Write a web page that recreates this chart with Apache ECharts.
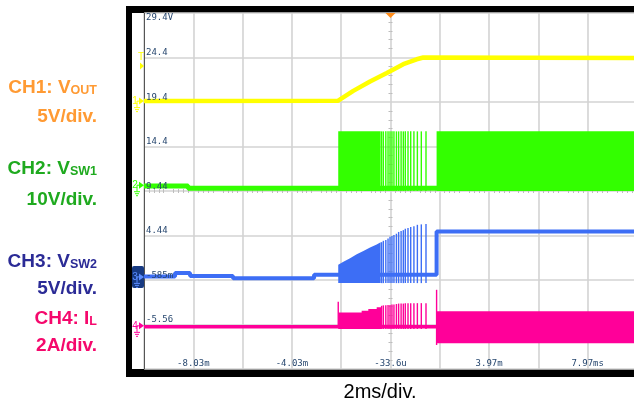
<!DOCTYPE html>
<html><head><meta charset="utf-8">
<script src="https://cdn.jsdelivr.net/npm/echarts@6/dist/echarts.min.js"></script>
<style>html,body{margin:0;padding:0;background:#fff;overflow:hidden}#c{width:634px;height:402px}</style>
</head><body><div id="c"></div>
<script>
// ---- axis ticks (time in ms from screen centre, level in screen divisions) ----
const xTickValues = [-8, -4, 0, 4, 8];
const xTickLabels = ['-8.03m', '-4.03m', '-33.6u', '3.97m', '7.97ms'];
const yTickValues = [-3, -2, -1, 0, 1, 2, 3];
const yTickLabels = ['-5.56', '-585m', '4.44', '9.44', '14.4', '19.4', '24.4'];
const yTopValue = 4;
const yTopLabel = '29.4V';

// ---- CH1 VOUT ----
const ch1Time  = [-10, -2.12, -1.51, -0.83, -0.15, 0.52, 1.06, 1.33, 10];
const ch1Level = [2.02, 2.03, 2.25, 2.46, 2.65, 2.85, 2.96, 3.0, 2.99];

// ---- CH2 VSW1 ----
const ch2Time  = [-10, -8.21, -8.21, 10];
const ch2Level = [0.11, 0.11, 0.06, 0.06];
const ch2Block1Time = [-2.12, -0.40];
const ch2Block1Top  = [1.34, 1.34];
const ch2Block1Bot  = [0.0, 0.0];
const ch2Block2Time = [1.87, 10];
const ch2Block2Top  = [1.34, 1.34];
const ch2Block2Bot  = [0.0, 0.0];
const spikeTime = [-0.36, -0.29, -0.19, -0.10, -0.02, 0.06, 0.14, 0.24, 0.33, 0.43, 0.52, 0.60, 0.71, 0.82, 0.95, 1.09, 1.25, 1.44];
const ch2SpikeLow  = 0.0;
const ch2SpikeHigh = 1.34;

// ---- CH3 VSW2 ----
const ch3Time  = [-10, -8.74, -8.74, -8.13, -8.13, -6.39, -6.39, -3.10, -3.10, 1.87, 1.87, 10];
const ch3Level = [-1.92, -1.92, -1.84, -1.84, -1.91, -1.91, -1.96, -1.96, -1.88, -1.88, -0.91, -0.91];
const ch3EnvTime = [-2.12, -1.91, -1.64, -1.37, -1.10, -0.83, -0.56, -0.40];
const ch3EnvTop  = [-1.66, -1.59, -1.51, -1.42, -1.35, -1.27, -1.20, -1.15];
const ch3EnvBot  = [-2.07, -2.07, -2.07, -2.07, -2.07, -2.07, -2.07, -2.07];
const ch3SpikeTop = [-1.15, -1.12, -1.10, -1.07, -1.03, -1.01, -0.99, -0.96, -0.92, -0.90, -0.88, -0.85, -0.83, -0.81, -0.79, -0.76, -0.75, -0.74];
const ch3SpikeLow = -2.07;

// ---- CH4 IL ----
const ch4Time  = [-10, 10];
const ch4Level = [-3.05, -3.05];
const ch4EnvTime = [-2.12, -1.17, -1.17, -0.90, -0.90, -0.56, -0.56, -0.36];
const ch4EnvTop  = [-2.73, -2.73, -2.69, -2.69, -2.65, -2.65, -2.61, -2.61];
const ch4EnvBot  = [-3.10, -3.10, -3.10, -3.10, -3.10, -3.10, -3.10, -3.10];
const ch4Block2Time = [1.87, 10];
const ch4Block2Top  = [-2.70, -2.70];
const ch4Block2Bot  = [-3.42, -3.42];
const ch4SpikeTop = [-2.58, -2.57, -2.57, -2.56, -2.56, -2.55, -2.55, -2.54, -2.53, -2.53, -2.53, -2.52, -2.52, -2.52, -2.52, -2.52, -2.52, -2.52];
const ch4SpikeLow = -3.10;
const ch4EdgeTime = [-2.12, 1.87];
const ch4EdgeTop  = [-2.49, -2.22];
const ch4EdgeLow  = [-3.05, -3.46];

// ---- markers ----
const markerLabels = ['1', '2', '3', '4'];
const markerLevels = [2.02, 0.13, -1.93, -3.03];
const triggerLevel = 2.81;
const triggerTime = 0;

const C1 = '#ffff00', C2 = '#33ff00', C3 = '#3d6ef5', C4 = '#ff0099';
const tickFont = 'DejaVu Sans Mono', tickColor = '#27476f';

function at(a, i) { return Array.isArray(a) ? a[i] : a; }
function trace(times, levels, color, w) {
  return { type: 'line', data: times.map((t, i) => [t, levels[i]]), showSymbol: false, symbol: 'none',
    lineStyle: { color: color, width: w }, itemStyle: { color: color }, z: 2, silent: true };
}
function env(times, tops, bots, color) {
  return { type: 'custom', z: 3, silent: true,
    data: times.map((t, i) => [t, at(tops, i), at(bots, i)]), encode: { x: 0, y: [1, 2] },
    renderItem: function (params, api) {
      if (params.dataIndexInside !== 0) return null;
      const n = params.dataInsideLength, pts = [];
      for (let i = 0; i < n; i++) pts.push(api.coord([api.value(0, i), api.value(1, i)]));
      for (let i = n - 1; i >= 0; i--) pts.push(api.coord([api.value(0, i), api.value(2, i)]));
      return { type: 'polygon', shape: { points: pts }, style: { fill: color } };
    } };
}
function spikes(times, lows, highs, color, w) {
  return { type: 'custom', z: 3, silent: true,
    data: times.map((t, i) => [t, at(lows, i), at(highs, i)]), encode: { x: 0, y: [1, 2] },
    renderItem: function (params, api) {
      const a = api.coord([api.value(0), api.value(1)]), b = api.coord([api.value(0), api.value(2)]);
      return { type: 'line', shape: { x1: a[0], y1: a[1], x2: b[0], y2: b[1] }, style: { stroke: color, lineWidth: w } };
    } };
}
function lab(values, labels) {
  return function (v) { const i = values.findIndex(x => Math.abs(x - v) < 1e-6); return i < 0 ? '' : labels[i]; };
}
const hidden = { axisLine: { show: false, onZero: false }, axisLabel: { show: false }, splitLine: { show: false } };
function centerAxis(extra, inside) {
  return Object.assign({ type: 'value', interval: 1, axisTick: { show: false, inside: inside },
    minorTick: { show: true, splitNumber: 5, length: 2, lineStyle: { color: '#bdbdbd', width: 1 } } }, hidden, extra);
}

const chart = echarts.init(document.getElementById('c'));
chart.setOption({
  animation: false,
  backgroundColor: '#fff',
  grid: { left: 144, width: 493, top: 13, height: 356, containLabel: false, outerBoundsMode: 'none' },
  xAxis: [
    { type: 'value', min: -10, max: 10, interval: 2, position: 'bottom',
      axisLine: { show: false, onZero: false }, axisTick: { show: false }, axisLabel: { show: false },
      splitLine: { show: true, lineStyle: { color: '#d3d3d3', width: 1.6 } } },
    { type: 'value', min: -10, max: 10, interval: 2, position: 'bottom', z: 10,
      axisLine: { show: false, onZero: false }, axisTick: { show: false }, splitLine: { show: false },
      axisLabel: { inside: true, margin: 1, fontFamily: tickFont, fontSize: 9, color: tickColor, formatter: lab(xTickValues, xTickLabels) } },
    centerAxis({ min: -10, max: 10, position: 'bottom', offset: -178 }, false),
    centerAxis({ min: -10, max: 10, position: 'bottom', offset: -178 }, true)
  ],
  yAxis: [
    { type: 'value', min: -4, max: 4, interval: 1, position: 'left',
      axisLine: { show: true, onZero: false, lineStyle: { color: '#555', width: 1 } }, axisTick: { show: false }, axisLabel: { show: false },
      splitLine: { show: true, lineStyle: { color: '#d3d3d3', width: 1.6 } } },
    { type: 'value', min: -4, max: 4, interval: 1, position: 'left', z: 10,
      axisLine: { show: false, onZero: false }, axisTick: { show: false }, splitLine: { show: false },
      axisLabel: { inside: true, margin: 2, align: 'left', verticalAlign: 'bottom', fontFamily: tickFont, fontSize: 9, color: tickColor, formatter: lab(yTickValues, yTickLabels) } },
    { type: 'value', min: -4, max: 4, interval: 1, position: 'left', z: 10,
      axisLine: { show: false, onZero: false }, axisTick: { show: false }, splitLine: { show: false },
      axisLabel: { inside: true, margin: 2, align: 'left', verticalAlign: 'top', fontFamily: tickFont, fontSize: 9, color: tickColor, formatter: lab([yTopValue], [yTopLabel]) } },
    centerAxis({ min: -4, max: 4, position: 'left', offset: -246.5 }, false),
    centerAxis({ min: -4, max: 4, position: 'left', offset: -246.5 }, true)
  ],
  series: [
    trace(ch1Time, ch1Level, C1, 4.5),
    trace(ch2Time, ch2Level, C2, 5),
    env(ch2Block1Time, ch2Block1Top, ch2Block1Bot, C2),
    env(ch2Block2Time, ch2Block2Top, ch2Block2Bot, C2),
    spikes(spikeTime, ch2SpikeLow, ch2SpikeHigh, C2, 1.4),
    trace(ch3Time, ch3Level, C3, 4),
    env(ch3EnvTime, ch3EnvTop, ch3EnvBot, C3),
    spikes(spikeTime, ch3SpikeLow, ch3SpikeTop, C3, 1.4),
    trace(ch4Time, ch4Level, C4, 3.5),
    env(ch4EnvTime, ch4EnvTop, ch4EnvBot, C4),
    env(ch4Block2Time, ch4Block2Top, ch4Block2Bot, C4),
    spikes(spikeTime, ch4SpikeLow, ch4SpikeTop, C4, 1.4),
    spikes(ch4EdgeTime, ch4EdgeLow, ch4EdgeTop, C4, 1.4)
  ]
});

// ---- decorations placed through the chart's own coordinate system ----
function px(t, v) { return chart.convertToPixel({ xAxisIndex: 0, yAxisIndex: 0 }, [t, v]); }
const g = [];
const L = px(-10, 0)[0];
g.push({ type: 'rect', z: -10, shape: { x: L - 18, y: 6, width: 520, height: 371 }, style: { fill: '#000' } });
g.push({ type: 'rect', z: -9, shape: { x: L - 12, y: 13, width: 520, height: 356 }, style: { fill: '#fff' } });
const mColors = [C1, C2, C3, C4];
markerLabels.forEach(function (m, i) {
  const y = px(-10, markerLevels[i])[1];
  const col = i === 2 ? '#5a8cff' : mColors[i];
  if (i === 2) g.push({ type: 'rect', z: 20, shape: { x: L - 12, y: y - 11, width: 12, height: 22, r: 2 }, style: { fill: '#173a82' } });
  g.push({ type: 'text', z: 21, x: L - 9, y: y, style: { text: m, fill: col, fontSize: 10, fontFamily: 'Liberation Sans', align: 'center', verticalAlign: 'middle' } });
  g.push({ type: 'polygon', z: 21, shape: { points: [[L - 5, y - 3.5], [L, y], [L - 5, y + 3.5]] }, style: { fill: col } });
  g.push({ type: 'polyline', z: 21, shape: { points: [[L - 5, y], [L - 7, y], [L - 7, y + 6]] }, style: { stroke: col, lineWidth: 1, fill: null } });
  g.push({ type: 'line', z: 21, shape: { x1: L - 10, y1: y + 6.5, x2: L - 4, y2: y + 6.5 }, style: { stroke: col, lineWidth: 1 } });
  g.push({ type: 'line', z: 21, shape: { x1: L - 9, y1: y + 8.5, x2: L - 5, y2: y + 8.5 }, style: { stroke: col, lineWidth: 1 } });
  g.push({ type: 'line', z: 21, shape: { x1: L - 8, y1: y + 10.5, x2: L - 6, y2: y + 10.5 }, style: { stroke: col, lineWidth: 1 } });
});
const ty = px(-10, triggerLevel)[1];
g.push({ type: 'text', z: 21, x: L - 3, y: ty - 9, style: { text: 'T', fill: C1, fontSize: 10, fontFamily: 'Liberation Sans', align: 'center', verticalAlign: 'middle' } });
g.push({ type: 'polygon', z: 21, shape: { points: [[L - 4, ty - 3.5], [L, ty], [L - 4, ty + 3.5]] }, style: { fill: C1 } });
const tx = px(triggerTime, 4);
g.push({ type: 'polygon', z: 21, shape: { points: [[tx[0] - 5, tx[1]], [tx[0] + 5, tx[1]], [tx[0], tx[1] + 5]] }, style: { fill: '#ff8c1a' } });

// channel captions
const capFont = 'Liberation Sans';
const captions = [
  { main: 'CH1: V', sub: 'OUT', scale: '5V/div.', color: '#ff9a33', y1: 87, y2: 117 },
  { main: 'CH2: V', sub: 'SW1', scale: '10V/div.', color: '#1faa1f', y1: 168, y2: 200 },
  { main: 'CH3: V', sub: 'SW2', scale: '5V/div.', color: '#2b2b96', y1: 261, y2: 289 },
  { main: 'CH4: I', sub: 'L', scale: '2A/div.', color: '#f5086c', y1: 318, y2: 346 }
];
captions.forEach(function (c) {
  g.push({ type: 'text', x: 97, y: c.y1, style: { text: '{m|' + c.main + '}{s|' + c.sub + '}', align: 'right', verticalAlign: 'middle',
    rich: { m: { fontSize: 19, fontWeight: 'bold', fontFamily: capFont, fill: c.color, color: c.color, verticalAlign: 'bottom', lineHeight: 21 },
            s: { fontSize: 12.5, fontWeight: 'bold', fontFamily: capFont, fill: c.color, color: c.color, verticalAlign: 'bottom', lineHeight: 17 } } } });
  g.push({ type: 'text', x: 97, y: c.y2, style: { text: c.scale, align: 'right', verticalAlign: 'middle', fontSize: 19, fontWeight: 'bold', fontFamily: capFont, fill: c.color } });
});
g.push({ type: 'text', x: 380, y: 392, style: { text: '2ms/div.', align: 'center', verticalAlign: 'middle', fontSize: 20, fontFamily: capFont, fill: '#000' } });

chart.setOption({ graphic: { elements: g } });
</script>
</body></html>
